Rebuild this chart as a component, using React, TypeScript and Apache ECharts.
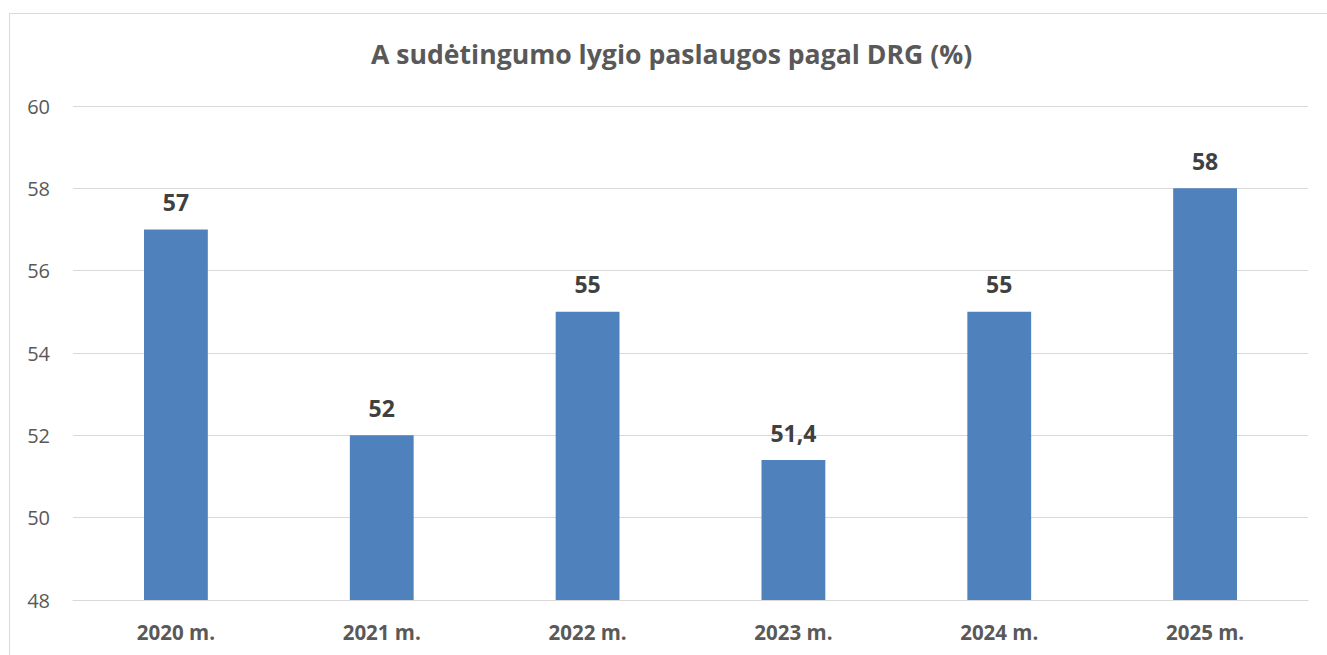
import React, { useEffect, useRef } from "react";
import * as echarts from "echarts";

const categories = ["2020 m.", "2021 m.", "2022 m.", "2023 m.", "2024 m.", "2025 m."];
const values = [57, 52, 55, 51.4, 55, 58];
const titleText = "A sudėtingumo lygio paslaugos pagal DRG (%)";

export default function App() {
  const ref = useRef<HTMLDivElement>(null);
  useEffect(() => {
    if (!ref.current) return;
    const chart = echarts.init(ref.current, null, { renderer: "svg" });
    const font = "Open Sans, Liberation Sans, sans-serif";
    chart.setOption({
      animation: false,
      textStyle: { fontFamily: font },
      graphic: [
        {
          type: "rect",
          shape: { x: 9.5, y: 13.5, width: 1400, height: 700 },
          style: { fill: "none", stroke: "#d9d9d9", lineWidth: 1 },
          silent: true,
        },
      ],
      title: {
        text: titleText,
        left: 366,
        top: 35,
        textStyle: { fontFamily: font, fontSize: 26.6, fontWeight: "bold", color: "#595959" },
      },
      grid: { left: 73, right: 19, top: 106, bottom: 55, containLabel: false },
      xAxis: {
        type: "category",
        data: categories,
        axisLine: { show: true, lineStyle: { color: "#d9d9d9", width: 1 } },
        axisTick: { show: false },
        axisLabel: { fontFamily: font, fontSize: 20.5, fontWeight: "bold", color: "#595959", margin: 21 },
      },
      yAxis: {
        type: "value",
        min: 48,
        max: 60,
        interval: 2,
        axisLine: { show: false },
        axisTick: { show: false },
        splitLine: { lineStyle: { color: "#d9d9d9", width: 1 } },
        axisLabel: { fontFamily: font, fontSize: 20, color: "#595959", margin: 23 },
      },
      series: [
        {
          type: "bar",
          data: values,
          barWidth: "31%",
          itemStyle: { color: "#4F81BD" },
          label: {
            show: true,
            position: "top",
            distance: 16,
            fontFamily: font,
            fontSize: 23,
            fontWeight: "bold",
            color: "#404040",
            formatter: (p: any) => String(p.value).replace(".", ","),
          },
        },
      ],
    });
    return () => chart.dispose();
  }, []);
  return (
    <div
      ref={ref}
      style={{ position: "fixed", left: 0, top: 0, width: 1327, height: 655, background: "#fff" }}
    />
  );
}
